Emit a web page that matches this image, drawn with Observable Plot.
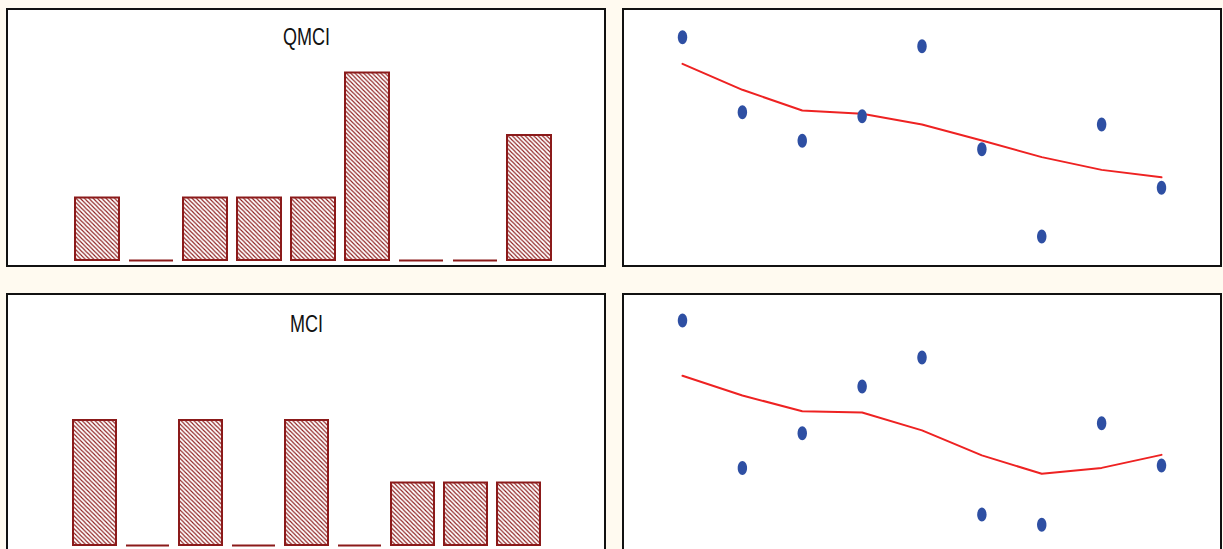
<!DOCTYPE html>
<html>
<head>
<meta charset="utf-8">
<script src="https://cdn.jsdelivr.net/npm/d3@7"></script>
<script src="https://cdn.jsdelivr.net/npm/@observablehq/plot@0.6"></script>
<style>
  html, body { margin: 0; padding: 0; background: #fffaf0; }
  body { width: 1223px; height: 549px; position: relative; overflow: hidden; }
  .panel { position: absolute; width: 596px; height: 255px; border: 2px solid #111; background: #fff; }
  .panel svg { display: block; }
</style>
</head>
<body>
<div class="panel" id="p1" style="left:6px; top:8px;"></div>
<div class="panel" id="p2" style="left:622px; top:8px;"></div>
<div class="panel" id="p3" style="left:6px; top:293px;"></div>
<div class="panel" id="p4" style="left:622px; top:293px;"></div>
<script>
// ---- data ----
const categories = ["1", "2", "3", "4", "5", "6", "7", "8", "9"];
const qmciCounts = [1, 0, 1, 1, 1, 3, 0, 0, 2];
const mciCounts  = [2, 0, 2, 0, 2, 0, 1, 1, 1];
const xPositions = [1, 2, 3, 4, 5, 6, 7, 8, 9];
const qmciPoints = [8.95, 6.01, 4.89, 5.85, 8.60, 4.56, 1.14, 5.53, 3.05];
const qmciSmooth = [7.91, 6.89, 6.08, 5.95, 5.53, 4.90, 4.25, 3.75, 3.46];
const mciPoints  = [9.02, 3.24, 4.60, 6.43, 7.57, 1.41, 1.01, 4.99, 3.33];
const mciSmooth  = [6.85, 6.08, 5.46, 5.41, 4.71, 3.73, 3.01, 3.24, 3.75];
const titles = ["QMCI", "MCI"];

const barColor = "#8b1a1a";
const dotColor = "#2e4fa3";
const lineColor = "#ee2222";

const ellipse = {
  draw(context) {
    const rx = 4.7, ry = 7, k = 0.5523;
    context.moveTo(rx, 0);
    context.bezierCurveTo(rx, ry * k, rx * k, ry, 0, ry);
    context.bezierCurveTo(-rx * k, ry, -rx, ry * k, -rx, 0);
    context.bezierCurveTo(-rx, -ry * k, -rx * k, -ry, 0, -ry);
    context.bezierCurveTo(rx * k, -ry, rx, -ry * k, rx, 0);
    context.closePath();
  }
};

function barPanel(counts, title, id, ml, mr, titleDy) {
  const data = categories.map((c, i) => ({c, v: counts[i]}));
  const pid = "hatch-" + id;
  const chart = Plot.plot({
    width: 596, height: 255,
    marginLeft: ml, marginRight: mr, marginTop: 0, marginBottom: 5,
    style: {background: "#fff", overflow: "visible"},
    x: {domain: categories, padding: 0.19, axis: null},
    y: {domain: [0, 4], axis: null},
    marks: [
      Plot.barY(data.filter(d => d.v > 0), {x: "c", y: "v", fill: `url(#${pid})`, stroke: barColor, strokeWidth: 2}),
      Plot.tickY(data.filter(d => d.v === 0), {x: "c", y: "v", stroke: barColor, strokeWidth: 2}),
      Plot.text([title], {frameAnchor: "top", lineAnchor: "middle", dy: titleDy, dx: (mr - ml) / 2,
        text: d => d, fontSize: 24, fontFamily: "'Liberation Sans', Arial, sans-serif", fill: "#111"})
    ]
  });
  const defs = d3.select(chart).insert("defs", ":first-child");
  const pat = defs.append("pattern").attr("id", pid).attr("patternUnits", "userSpaceOnUse")
    .attr("width", 4.3).attr("height", 4.3);
  pat.append("rect").attr("width", 4.3).attr("height", 4.3).attr("fill", "#fff");
  pat.append("path").attr("d", "M-0.5,-0.5L4.8,4.8M-1,3.3L1,5.3M3.3,-1L5.3,1")
    .attr("stroke", barColor).attr("stroke-width", 1.1);
  document.getElementById(id).appendChild(chart);
  // condensed look for the title: compress glyphs to 75% of natural width
  d3.select(chart).selectAll("text").each(function() {
    const w = this.getComputedTextLength();
    this.setAttribute("textLength", (w * 0.75).toFixed(1));
    this.setAttribute("lengthAdjust", "spacingAndGlyphs");
  });
}

function scatterPanel(points, smooth, id) {
  const pts = xPositions.map((x, i) => ({x, y: points[i]}));
  const sm = xPositions.map((x, i) => ({x, y: smooth[i]}));
  const chart = Plot.plot({
    width: 596, height: 255,
    marginLeft: 58, marginRight: 59, marginTop: 0, marginBottom: 0,
    style: {background: "#fff", overflow: "visible"},
    x: {domain: [1, 9], axis: null},
    y: {domain: [0, 10], axis: null},
    marks: [
      Plot.line(sm, {x: "x", y: "y", stroke: lineColor, strokeWidth: 2}),
      Plot.dot(pts, {x: "x", y: "y", symbol: ellipse, fill: dotColor, stroke: "none"})
    ]
  });
  document.getElementById(id).appendChild(chart);
}

barPanel(qmciCounts, titles[0], "p1", 55, 42, 27);
scatterPanel(qmciPoints, qmciSmooth, "p2");
barPanel(mciCounts, titles[1], "p3", 54, 53, 29);
scatterPanel(mciPoints, mciSmooth, "p4");
</script>
</body>
</html>
